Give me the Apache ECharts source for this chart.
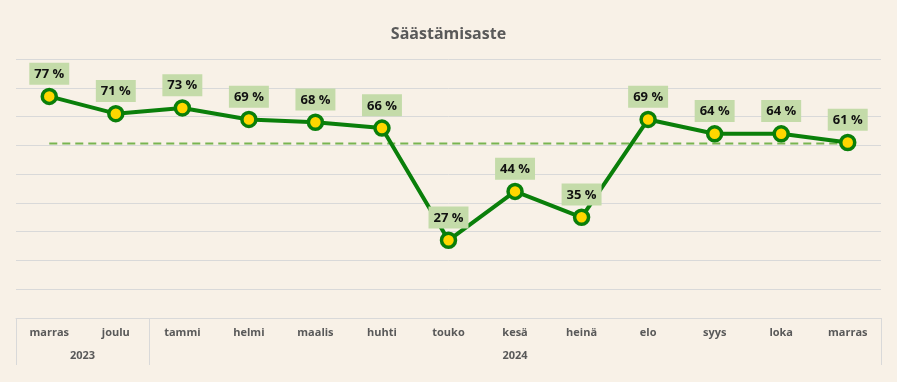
<!DOCTYPE html>
<html><head><meta charset="utf-8">
<script src="https://cdn.jsdelivr.net/npm/echarts@6/dist/echarts.min.js"></script>
<style>html,body{margin:0;padding:0;background:#F8F1E7}#c{width:897px;height:382px}</style>
</head><body><div id="c"></div>
<script>
const months = ['marras','joulu','tammi','helmi','maalis','huhti','touko','kesä','heinä','elo','syys','loka','marras'];
const values = [77,71,73,69,68,66,27,44,35,69,64,64,61];
const average = [60.6,60.6,60.6,60.6,60.6,60.6,60.6,60.6,60.6,60.6,60.6,60.6,60.6];
const years = ['2023','2024'];
const yearBounds = [0,2,13];
const yearCenters = [1,7.5];

const chart = echarts.init(document.getElementById('c'));
const font = '"Open Sans", "Noto Sans", sans-serif';
chart.setOption({
  backgroundColor:'#F8F1E7',
  animation:false,
  title:{text:'Säästämisaste',left:'center',top:21,textStyle:{fontFamily:font,fontSize:16,fontWeight:'bold',color:'#595959'}},
  grid:{left:16,right:16,top:59,bottom:64},
  xAxis:[{
    type:'category',data:months,boundaryGap:true,
    axisLine:{show:true,lineStyle:{color:'#D9D9D9',width:1}},
    axisTick:{show:false},
    axisLabel:{margin:9,fontFamily:font,fontSize:11,fontWeight:'bold',color:'#595959'}
  },{
    type:'value',min:0,max:13,position:'bottom',
    axisLine:{show:false},splitLine:{show:false},
    axisTick:{show:true,customValues:yearBounds,length:47,lineStyle:{color:'#D9D9D9',width:1}},
    axisLabel:{customValues:yearCenters,margin:32,fontFamily:font,fontSize:11,fontWeight:'bold',color:'#595959',
      formatter:v=>years[yearCenters.indexOf(v)]}
  }],
  yAxis:{type:'value',min:0,max:90,interval:10,
    axisLabel:{show:false},axisLine:{show:false},axisTick:{show:false},
    splitLine:{lineStyle:{color:'#D9D9D9',width:1}}},
  series:[{
    type:'line',data:average,symbol:'none',silent:true,
    lineStyle:{color:'#78B450',width:2,type:[8,5]},z:1
  },{
    type:'line',data:values,
    lineStyle:{color:'#0A7F0A',width:4},
    symbol:'circle',symbolSize:14,
    itemStyle:{color:'#FFD700',borderColor:'#0A7F0A',borderWidth:3.5},
    label:{show:true,position:'top',distance:3,formatter:p=>p.value+' %',
      fontFamily:font,fontSize:13,fontWeight:'bold',color:'#111',
      backgroundColor:'#C4DBA9',padding:[5,5,4,5]},
    z:3
  }]
});
</script></body></html>
